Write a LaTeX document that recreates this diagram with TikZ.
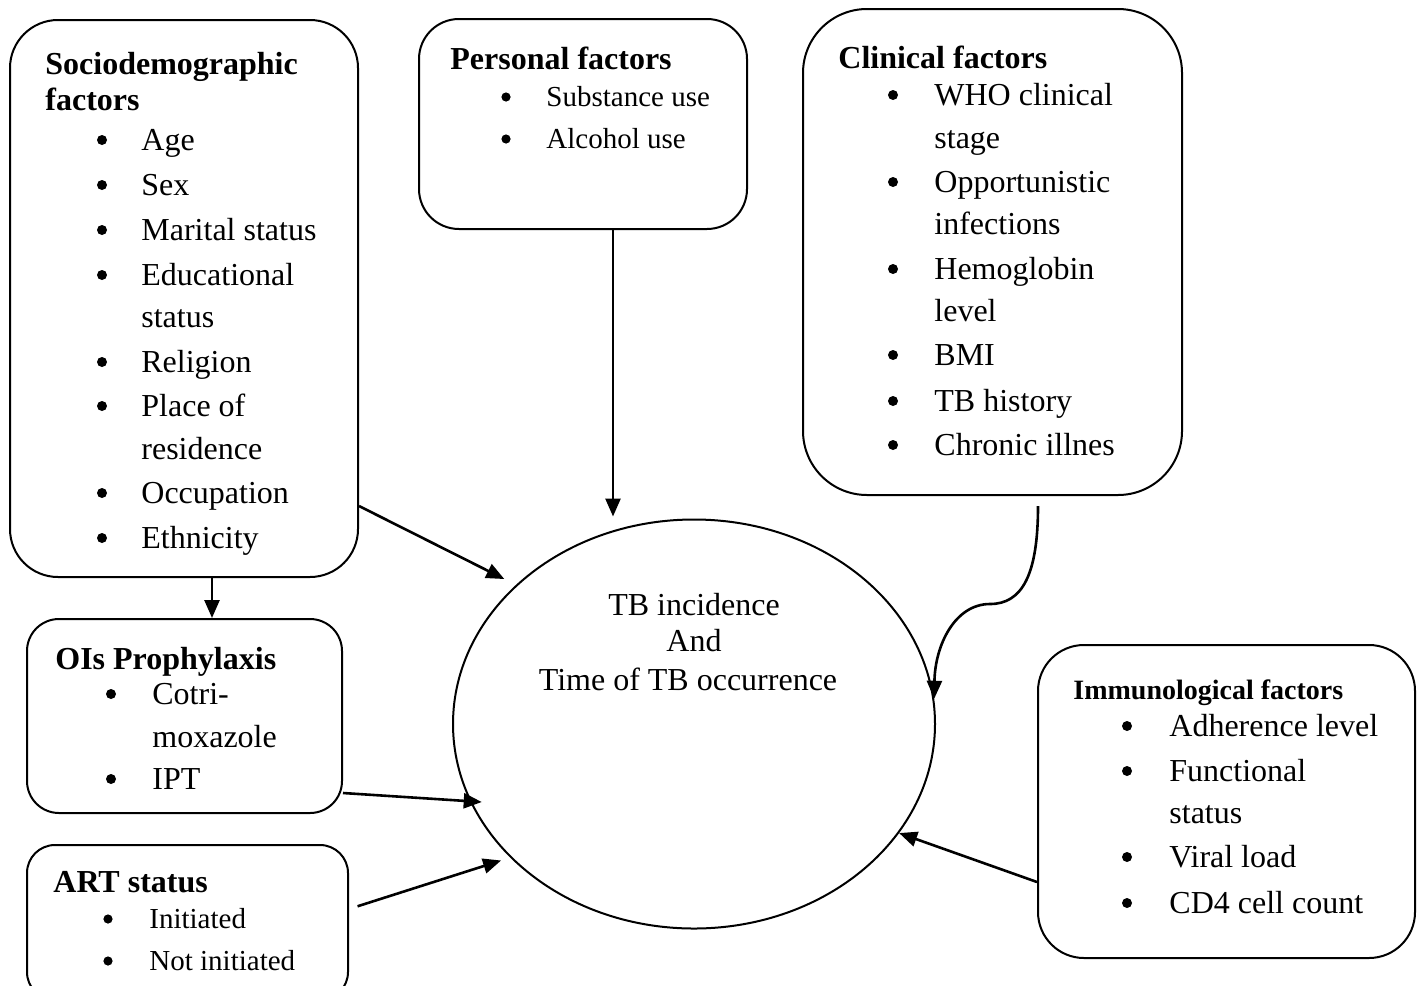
\documentclass[tikz,border=0pt]{standalone}
\usepackage{fontspec}
\setmainfont{Liberation Serif}
\usetikzlibrary{arrows.meta,shapes.geometric,calc}

\begin{document}
\begin{tikzpicture}[x=0.5pt, y=-0.5pt,
	box/.style={draw, line width=1pt, rounded corners=#1, inner sep=0pt},
	hd/.style={anchor=base west, inner sep=0pt, font=\fontsize{16}{19}\selectfont\bfseries},
	itm/.style={anchor=base west, inner sep=0pt, font=\fontsize{16}{19}\selectfont},
	itms/.style={anchor=base west, inner sep=0pt, font=\fontsize{14.5}{17}\selectfont},
	bul/.style={circle, fill, inner sep=0pt, minimum size=#1},
	bul/.default=5pt,
	arr/.style={-{Triangle[length=9pt,width=7.5pt]}, line width=1.3pt}]
\useasboundingbox (0,0) rectangle (1422,985);

% Boxes
\node[box=24pt, minimum width=174pt, minimum height=278.5pt] (socio) at (184,298.5) {};
\node[box=20pt, minimum width=164pt, minimum height=105pt] (pers) at (583,124) {};
\node[box=32pt, minimum width=189.5pt, minimum height=243pt] (clin) at (992.5,252) {};
\node[box=16pt, minimum width=157.5pt, minimum height=97pt] (ois) at (184.5,716) {};
\node[box=14pt, minimum width=160.5pt, minimum height=77.5pt] (art) at (187.5,922.5) {};
\node[box=23pt, minimum width=188.5pt, minimum height=156.5pt] (imm) at (1226.5,801.5) {};
\node[draw, ellipse, line width=1pt, minimum width=241pt, minimum height=204.5pt, inner sep=0pt] (tb) at (694,724) {};

% Sociodemographic factors
\node[hd] at (45,74) {Sociodemographic};
\node[hd] at (45,110) {factors};
\foreach \y in {150,195,240,285,372,416,503,548}
	\node[bul] at (102,\y-10) {};
\foreach \y/\t in {150/Age, 195/Sex, 240/Marital status, 285/Educational, 327/status,
	372/Religion, 416/Place of, 459/residence, 503/Occupation, 548/Ethnicity}
	\node[itm] at (141,\y) {\t};

% Personal factors
\node[hd] at (450,69) {Personal factors};
\foreach \y/\t in {106/Substance use, 148/Alcohol use}{
	\node[bul=4.6pt] at (506,\y-9) {};
	\node[itms] at (546,\y) {\t};
}

% Clinical factors
\node[hd] at (838,68) {Clinical factors};
\foreach \y in {105,192,279,365,411,455}
	\node[bul] at (893,\y-10) {};
\foreach \y/\t in {105/WHO clinical, 148/stage, 192/Opportunistic, 234/infections,
	279/Hemoglobin, 321/level, 365/BMI, 411/TB history, 455/Chronic illnes}
	\node[itm] at (934,\y) {\t};

% OIs Prophylaxis
\node[hd] at (55,669) {OIs Prophylaxis};
\foreach \y in {704,789}
	\node[bul] at (111,\y-10) {};
\foreach \y/\t in {704/Cotri-, 747/moxazole, 789/IPT}
	\node[itm] at (152,\y) {\t};

% ART status
\node[hd] at (53,892) {ART status};
\foreach \y/\t in {928/Initiated, 970/Not initiated}{
	\node[bul=4.6pt] at (108,\y-9) {};
	\node[itms] at (149,\y) {\t};
}

% Immunological factors
\node[hd, font=\fontsize{14}{17}\selectfont\bfseries] at (1073,699) {Immunological factors};
\foreach \y in {736,781,867,913}
	\node[bul] at (1127,\y-10) {};
\foreach \y/\t in {736/Adherence level, 781/Functional, 823/status, 867/Viral load, 913/CD4 cell count}
	\node[itm] at (1169,\y) {\t};

% Outcome
\node[itm, anchor=base] at (694,615) {TB incidence};
\node[itm, anchor=base] at (694,651) {And};
\node[itm, anchor=base] at (688,690) {Time of TB occurrence};

% Arrows
\draw[arr, shorten >=6.5pt] (socio.east |- 0,506) -- (tb.142.6);
\draw[arr] (socio.south -| 212,0) -- (ois.north -| 212,0);
\draw[arr, shorten >=1pt] (pers.south -| 613,0) -- (tb.north -| 613,0);
\draw[arr] ($(clin.south -| 1038,0)+(0,10)$) .. controls (1038,575) and (1022,604) .. (990,604)
	.. controls (955,604) and (935,645) .. (tb.6);
\draw[arr, shorten >=-6pt] (ois.east |- 0,793) -- (tb.199.1);
\draw[arr, shorten <=4.5pt, shorten >=4.75pt] (art.east |- 0,909) -- (tb.216.4);
\draw[arr] (imm.west |- 0,882) -- (tb.332.6);
\end{tikzpicture}
\end{document}
